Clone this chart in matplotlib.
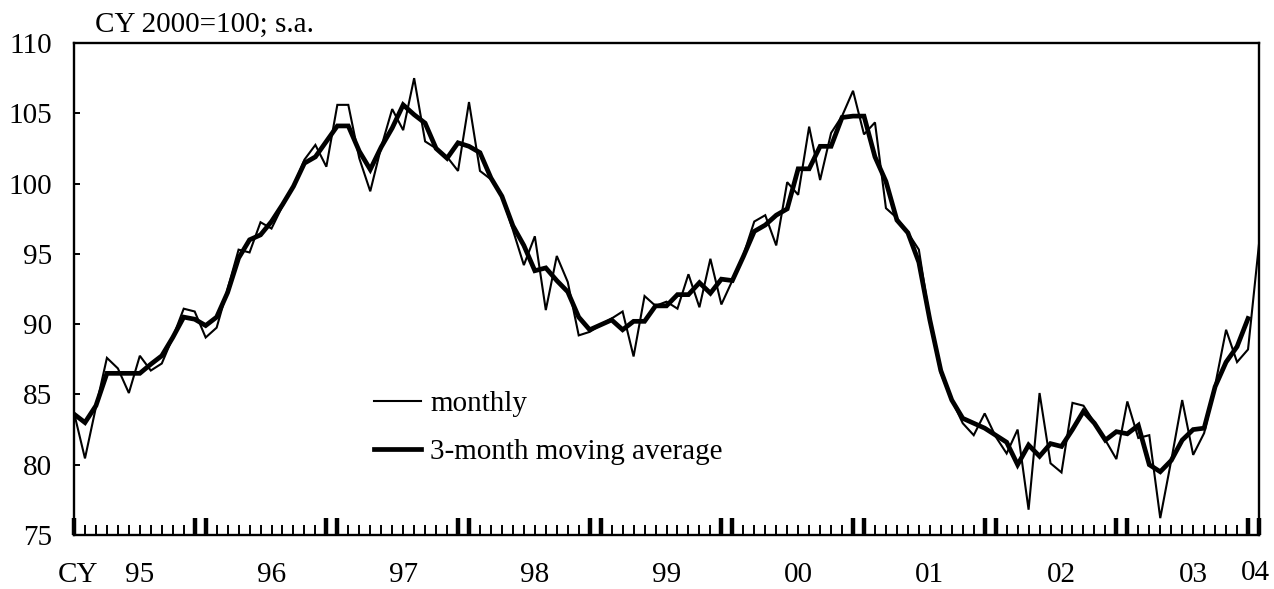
import numpy as np
import matplotlib
matplotlib.use("Agg")
import matplotlib.pyplot as plt
import matplotlib.transforms as mtrans

plt.rcParams['font.family'] = ['Liberation Serif', 'DejaVu Serif']

# monthly index, Jan 1995 .. Jan 2004
monthly = [83.7, 80.45, 84.1, 87.6, 86.85, 85.1, 87.75, 86.7, 87.2, 89.05, 91.1, 90.9,
           89.05, 89.75, 92.5, 95.3, 95.1, 97.25, 96.8, 98.4, 99.8, 101.7, 102.75, 101.2,
           105.6, 105.6, 101.8, 99.45, 102.6, 105.3, 103.8, 107.5, 103.0, 102.5, 101.9, 100.9,
           105.8, 100.9, 100.3, 99.1, 96.7, 94.2, 96.25, 91.0, 94.85, 93.0, 89.2, 89.45,
           89.95, 90.4, 90.9, 87.7, 92.0, 91.3, 91.6, 91.1, 93.55, 91.2, 94.65, 91.4,
           93.1, 94.9, 97.3, 97.75, 95.6, 100.1, 99.2, 104.05, 100.25, 103.6, 104.8, 106.6,
           103.5, 104.35, 98.25, 97.55, 96.5, 95.3, 90.3, 86.5, 84.6, 82.95, 82.1, 83.65,
           82.0, 80.8, 82.5, 76.8, 85.1, 80.1, 79.45, 84.4, 84.2, 83.0, 81.75, 80.4,
           84.5, 81.9, 82.1, 76.2, 80.3, 84.6, 80.7, 82.25, 85.65, 89.6, 87.3, 88.2,
           95.7]

# 3-month moving average, Jan 1995 .. Dec 2003
mov_avg = [83.6, 83.0, 84.2, 86.5, 86.5, 86.5, 86.5, 87.15, 87.75, 89.05, 90.5, 90.35,
           89.9, 90.5, 92.25, 94.7, 96.0, 96.35, 97.3, 98.5, 99.8, 101.45, 101.9, 103.0,
           104.1, 104.1, 102.3, 101.0, 102.6, 103.95, 105.6, 104.9, 104.3, 102.5, 101.8, 102.9,
           102.65, 102.2, 100.4, 99.1, 97.0, 95.6, 93.8, 94.0, 93.1, 92.3, 90.5, 89.6,
           89.95, 90.3, 89.6, 90.2, 90.2, 91.3, 91.3, 92.1, 92.1, 92.95, 92.2, 93.2,
           93.1, 94.8, 96.6, 97.05, 97.75, 98.2, 101.05, 101.05, 102.65, 102.65, 104.7, 104.8,
           104.8, 101.9, 100.15, 97.4, 96.5, 94.4, 90.3, 86.7, 84.6, 83.3, 82.95, 82.6,
           82.1, 81.6, 80.0, 81.4, 80.6, 81.5, 81.3, 82.5, 83.8, 82.95, 81.75, 82.35,
           82.2, 82.8, 80.0, 79.5, 80.3, 81.75, 82.5, 82.6, 85.55, 87.3, 88.4, 90.4]

year_labels = ['95', '96', '97', '98', '99', '00', '01', '02', '03']

FS = 21

x_m = np.arange(len(monthly))
x_a = np.arange(len(mov_avg))

fig = plt.figure(figsize=(12.74, 5.89), dpi=100)
ax = fig.add_axes([74/1274, 1 - 535/589, (1259 - 74)/1274, (535 - 43)/589])

ax.plot(x_m, monthly, color='black', lw=1.5, label='monthly', solid_joinstyle='miter')
ax.plot(x_a, mov_avg, color='black', lw=3.4, label='3-month moving average', solid_joinstyle='miter')

ax.set_xlim(0, len(monthly) - 1)
ax.set_ylim(75, 110)
ax.set_yticks(np.arange(75, 111, 5))

# year boundary ticks (Dec / Jan pairs) and monthly ticks
major = [0] + [p for k in range(1, 10) for p in (12*k - 1, 12*k)]
ax.set_xticks(major)
ax.set_xticks(x_m, minor=True)
ax.set_xticklabels([])
ax.tick_params(axis='x', which='major', direction='in', length=12.5, width=3.2)
ax.tick_params(axis='x', which='minor', direction='in', length=7, width=1.4)
ax.tick_params(axis='y', direction='in', length=4, width=1.4, pad=16, labelsize=FS)

for s in ax.spines.values():
    s.set_linewidth(1.7)

# year labels under the axis (x in data units, y in figure pixels)
trans = mtrans.blended_transform_factory(ax.transData, fig.transFigure)
y_lab = 1 - 588/589
for k, lab in enumerate(year_labels):
    ax.text(6 + 12*k, y_lab, lab, transform=trans, ha='center', va='bottom', fontsize=FS)
ax.text(0.4, y_lab, 'CY', transform=trans, ha='center', va='bottom', fontsize=FS)
ax.text(len(monthly) - 1.3, 1 - 580/589, '04', transform=trans, ha='center', va='baseline', fontsize=FS)

fig.text(95/1274, 1 - 25/589, 'CY 2000=100; s.a.', ha='left', va='center', fontsize=FS)

ax.legend(loc='upper left', bbox_to_anchor=((374 - 74)/1185, (535 - 391)/492),
          frameon=False, fontsize=FS, handlelength=1.6, handletextpad=0.33,
          labelspacing=0.72, borderpad=0, borderaxespad=0)

fig.savefig('out.png', dpi=100)
